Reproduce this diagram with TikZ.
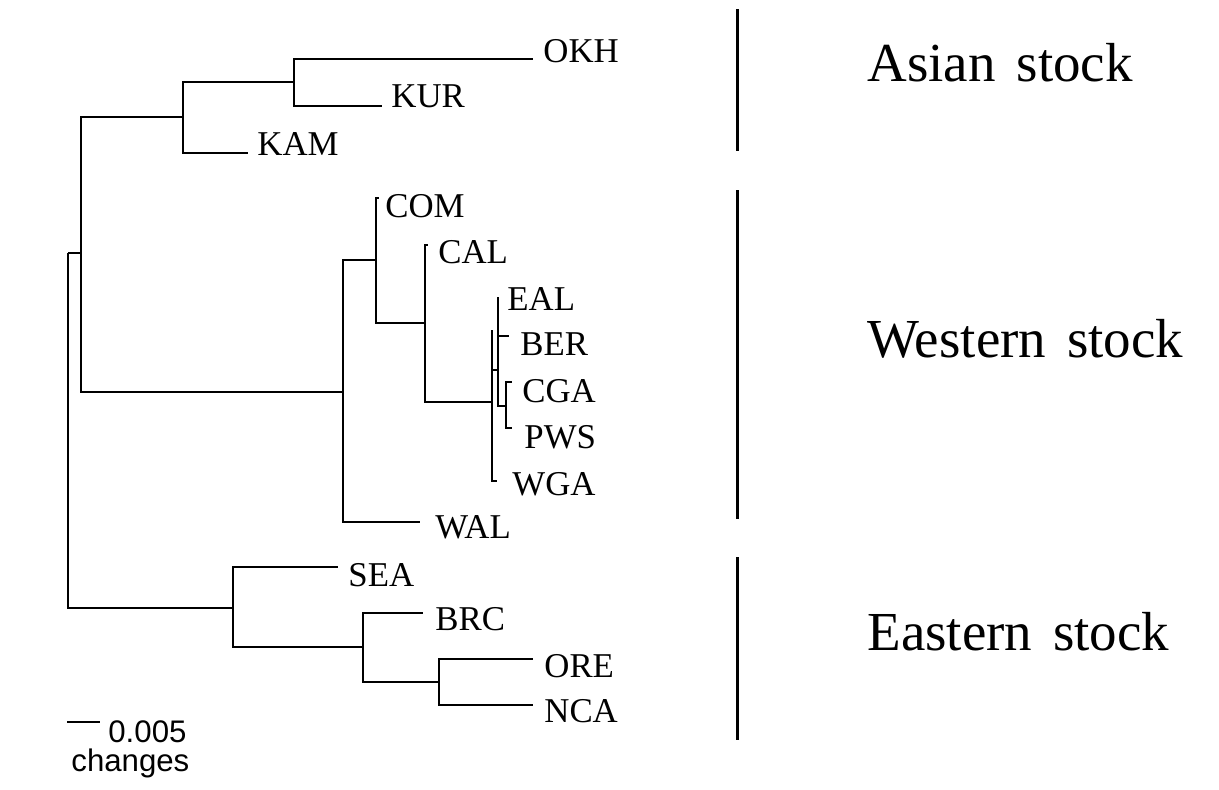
\documentclass[tikz,border=0pt]{standalone}
\usepackage{fontspec}
\setmainfont{Liberation Serif}
\newfontfamily\scalefont{Liberation Sans}
\begin{document}
\begin{tikzpicture}[x=0.5pt,y=-0.5pt,
  branch/.style={line width=1pt,line join=miter},
  stockbar/.style={line width=1.5pt},
  taxon/.style={anchor=base west,inner sep=0pt,font=\fontsize{17.4pt}{20pt}\selectfont},
  stocklabel/.style={anchor=base west,inner sep=0pt,font=\fontsize{27.5pt}{32pt}\selectfont},
  scaletext/.style={anchor=base west,inner sep=0pt,font=\scalefont\fontsize{15.6pt}{18pt}\selectfont}]
\useasboundingbox[fill=white] (0,0) rectangle (1219,789);
% internal nodes
\coordinate (r) at (68,253);
\coordinate (AW) at (81,253);
\coordinate (As) at (183,117);
\coordinate (OK) at (294,82);
\coordinate (We) at (343,392);
\coordinate (Co) at (376,260);
\coordinate (Ca) at (425,323);
\coordinate (A) at (492,402);
\coordinate (Atop) at (492,330);
\coordinate (B) at (498,370);
\coordinate (CP) at (506,406);
\coordinate (Ea) at (233,608);
\coordinate (Br) at (363,647);
\coordinate (ON) at (439,682);
% tips
\coordinate (tOKH) at (533,59);
\coordinate (tKUR) at (382,106);
\coordinate (tKAM) at (248,153);
\coordinate (tCOM) at (379,198);
\coordinate (tCAL) at (428,245);
\coordinate (tEAL) at (498,297);
\coordinate (tBER) at (509,336);
\coordinate (tCGA) at (512,382);
\coordinate (tPWS) at (512,428);
\coordinate (tWGA) at (497,481);
\coordinate (tWAL) at (420,522);
\coordinate (tSEA) at (338,567);
\coordinate (tBRC) at (423,613);
\coordinate (tORE) at (533,659);
\coordinate (tNCA) at (533,705);
% branches
\draw[branch] (r) |- (AW);
\draw[branch] (r) |- (Ea);
\draw[branch] (AW) |- (As);
\draw[branch] (AW) |- (We);
\draw[branch] (As) |- (OK);
\draw[branch] (As) |- (tKAM);
\draw[branch] (OK) |- (tOKH);
\draw[branch] (OK) |- (tKUR);
\draw[branch] (We) |- (Co);
\draw[branch] (We) |- (tWAL);
\draw[branch] (Co) |- (tCOM);
\draw[branch] (Co) |- (Ca);
\draw[branch] (Ca) |- (tCAL);
\draw[branch] (Ca) |- (A);
\draw[branch] (A) -- (Atop);
\draw[branch] (A) |- (B);
\draw[branch] (A) |- (tWGA);
\draw[branch] (B) |- (tEAL);
\draw[branch] (B) |- (tBER);
\draw[branch] (B) |- (CP);
\draw[branch] (CP) |- (tCGA);
\draw[branch] (CP) |- (tPWS);
\draw[branch] (Ea) |- (tSEA);
\draw[branch] (Ea) |- (Br);
\draw[branch] (Br) |- (tBRC);
\draw[branch] (Br) |- (ON);
\draw[branch] (ON) |- (tORE);
\draw[branch] (ON) |- (tNCA);
% taxon labels
\node[taxon] (OKH) at (543,62) {OKH};
\node[taxon] (KUR) at (391,107) {KUR};
\node[taxon] (KAM) at (257,155) {KAM};
\node[taxon] (COM) at (385,217) {COM};
\node[taxon] (CAL) at (438,263) {CAL};
\node[taxon] (EAL) at (507,310) {EAL};
\node[taxon] (BER) at (520,355) {BER};
\node[taxon] (CGA) at (522,402) {CGA};
\node[taxon] (PWS) at (524,448) {PWS};
\node[taxon] (WGA) at (512,495) {WGA};
\node[taxon] (WAL) at (435,538) {WAL};
\node[taxon] (SEA) at (348,586) {SEA};
\node[taxon] (BRC) at (435,630) {BRC};
\node[taxon] (ORE) at (544,677) {ORE};
\node[taxon] (NCA) at (544,722) {NCA};
% stock bars and labels
\coordinate (asT) at (737,9);   \coordinate (asB) at (737,151);
\coordinate (weT) at (737,190); \coordinate (weB) at (737,519);
\coordinate (eaT) at (737,557); \coordinate (eaB) at (737,740);
\draw[stockbar] (asT) -- (asB);
\draw[stockbar] (weT) -- (weB);
\draw[stockbar] (eaT) -- (eaB);
\node[stocklabel] (asian) at (867,81) {Asian\hspace{0.38em}stock};
\node[stocklabel] (western) at (867,357) {Western\hspace{0.38em}stock};
\node[stocklabel] (eastern) at (867,650) {Eastern\hspace{0.38em}stock};
% scale bar
\coordinate (sbL) at (67,722);
\coordinate (sbR) at (100,722);
\draw[branch] (sbL) -- (sbR);
\node[scaletext] (sbval) at (108,742) {0.005};
\node[scaletext] (sbunit) at (71,771) {changes};
\end{tikzpicture}
\end{document}
